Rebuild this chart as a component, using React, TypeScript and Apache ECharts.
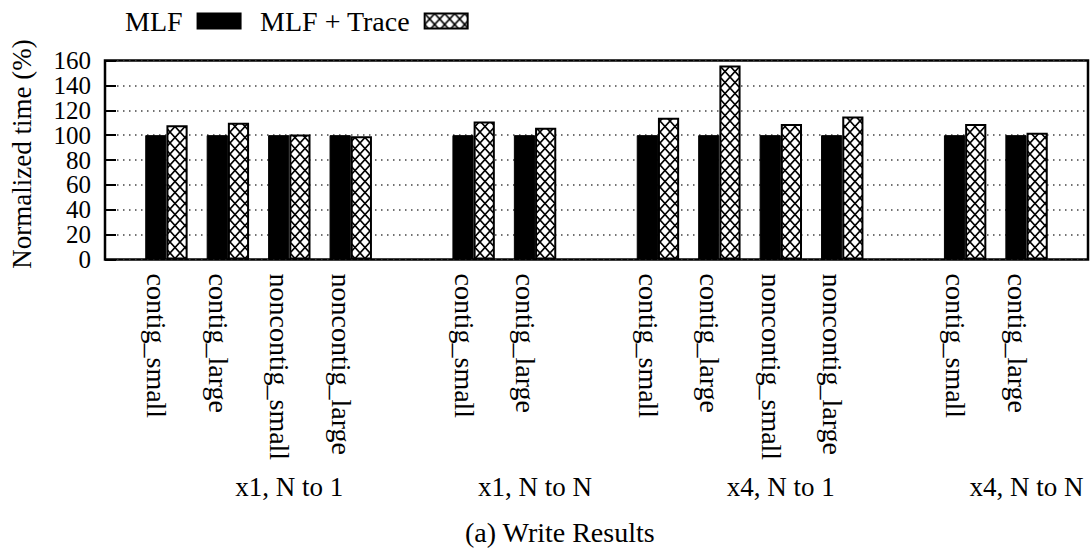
import React, { useEffect, useRef } from 'react';
import * as echarts from 'echarts';

// Slots along the x axis; empty strings are spacer slots between groups.
const slotLabels = [
  '', 'contig_small', 'contig_large', 'noncontig_small', 'noncontig_large',
  '', 'contig_small', 'contig_large',
  '', 'contig_small', 'contig_large', 'noncontig_small', 'noncontig_large',
  '', 'contig_small', 'contig_large', '',
];
const groupLabels = [
  '', '', '', 'x1, N to 1', '', '', '', 'x1, N to N', '',
  '', '', 'x4, N to 1', '', '', '', 'x4, N to N', '',
];
const mlfValues = [null, 100, 100, 100, 100, null, 100, 100, null, 100, 100, 100, 100, null, 100, 100, null];
const mlfTraceValues = [null, 108, 110, 100.5, 99, null, 111, 106, null, 114, 156, 109, 115, null, 109, 102, null];
const seriesNames = ['MLF', 'MLF + Trace'];
const yMin = 0;
const yMax = 160;
const yStep = 20;

const FONT = 'Liberation Serif';

function makeCrossHatch(): HTMLCanvasElement {
  const w = 10;
  const h = 11;
  const c = document.createElement('canvas');
  c.width = w;
  c.height = h;
  const ctx = c.getContext('2d')!;
  ctx.fillStyle = '#fff';
  ctx.fillRect(0, 0, w, h);
  ctx.strokeStyle = '#000';
  ctx.lineWidth = 1.6;
  for (const dx of [-w, 0, w]) {
    for (const dy of [-h, 0, h]) {
      ctx.beginPath();
      ctx.moveTo(dx, dy);
      ctx.lineTo(dx + w, dy + h);
      ctx.moveTo(dx + w, dy);
      ctx.lineTo(dx, dy + h);
      ctx.stroke();
    }
  }
  return c;
}

export default function App() {
  const ref = useRef<HTMLDivElement>(null);

  useEffect(() => {
    if (!ref.current) return;
    const chart = echarts.init(ref.current, undefined, { renderer: 'svg' });
    const hatch = makeCrossHatch();
    const slotIds = slotLabels.map((_, i) => `slot${i}`);

    chart.setOption({
      animation: false,
      backgroundColor: '#fff',
      textStyle: { fontFamily: FONT, color: '#000' },
      title: {
        text: '(a) Write Results',
        left: 465,
        top: 518,
        padding: 0,
        textStyle: { fontFamily: FONT, fontSize: 28, fontWeight: 'normal', color: '#000' },
      },
      legend: {
        data: seriesNames,
        left: 125,
        top: 7,
        padding: 0,
        align: 'right',
        icon: 'rect',
        itemWidth: 43,
        itemHeight: 15,
        itemGap: 18,
        textStyle: { fontFamily: FONT, fontSize: 28, color: '#000', padding: [0, 10, 0, 0] },
      },
      grid: {
        left: 102,
        right: 2,
        top: 60.5,
        bottom: 296.5,
        show: true,
        borderColor: '#000',
        borderWidth: 2.5,
        backgroundColor: 'transparent',
        containLabel: false,
      },
      xAxis: [
        {
          type: 'category',
          data: slotIds,
          boundaryGap: false,
          position: 'bottom',
          axisLine: { show: false },
          axisTick: { show: false },
          splitLine: { show: false },
          axisLabel: {
            interval: 0,
            rotate: -90,
            margin: 14,
            fontFamily: FONT,
            fontSize: 28,
            lineHeight: 19,
            verticalAlign: 'top',
            color: '#000',
            formatter: (_v: string, i: number) => slotLabels[i],
          },
        },
        {
          type: 'category',
          data: slotIds,
          boundaryGap: false,
          position: 'bottom',
          axisLine: { show: false },
          axisTick: { show: false },
          splitLine: { show: false },
          axisLabel: {
            interval: 0,
            margin: 214,
            fontFamily: FONT,
            fontSize: 27,
            color: '#000',
            formatter: (_v: string, i: number) => groupLabels[i],
          },
        },
      ],
      yAxis: {
        type: 'value',
        min: yMin,
        max: yMax,
        interval: yStep,
        name: 'Normalized time (%)',
        nameLocation: 'middle',
        nameRotate: 90,
        nameGap: 70,
        nameTextStyle: { fontFamily: FONT, fontSize: 27, color: '#000', padding: [0, 0, 0, 12] },
        axisLine: { show: false },
        axisTick: { show: true, inside: true, length: 11, lineStyle: { color: '#000', width: 2 } },
        axisLabel: {
          margin: 14,
          fontFamily: FONT,
          fontSize: 25,
          lineHeight: 14,
          color: '#000',
          showMinLabel: true,
          showMaxLabel: true,
          hideOverlap: false,
        },
        splitLine: { show: true, lineStyle: { color: '#444', width: 1.5, type: [1.5, 4.5] } },
      },
      series: [
        {
          name: seriesNames[0],
          type: 'bar',
          xAxisIndex: 0,
          data: mlfValues,
          barWidth: '34.5%',
          barGap: '0%',
          itemStyle: { color: '#000', borderColor: '#000', borderWidth: 1 },
        },
        {
          name: seriesNames[1],
          type: 'bar',
          xAxisIndex: 0,
          data: mlfTraceValues,
          barWidth: '34.5%',
          barGap: '0%',
          itemStyle: {
            color: { image: hatch, repeat: 'repeat', imageWidth: 10, imageHeight: 11 },
            borderColor: '#000',
            borderWidth: 2,
          },
        },
      ],
    });

    return () => chart.dispose();
  }, []);

  return (
    <div
      ref={ref}
      style={{ position: 'absolute', left: 0, top: 0, width: 1091, height: 556 }}
    />
  );
}
